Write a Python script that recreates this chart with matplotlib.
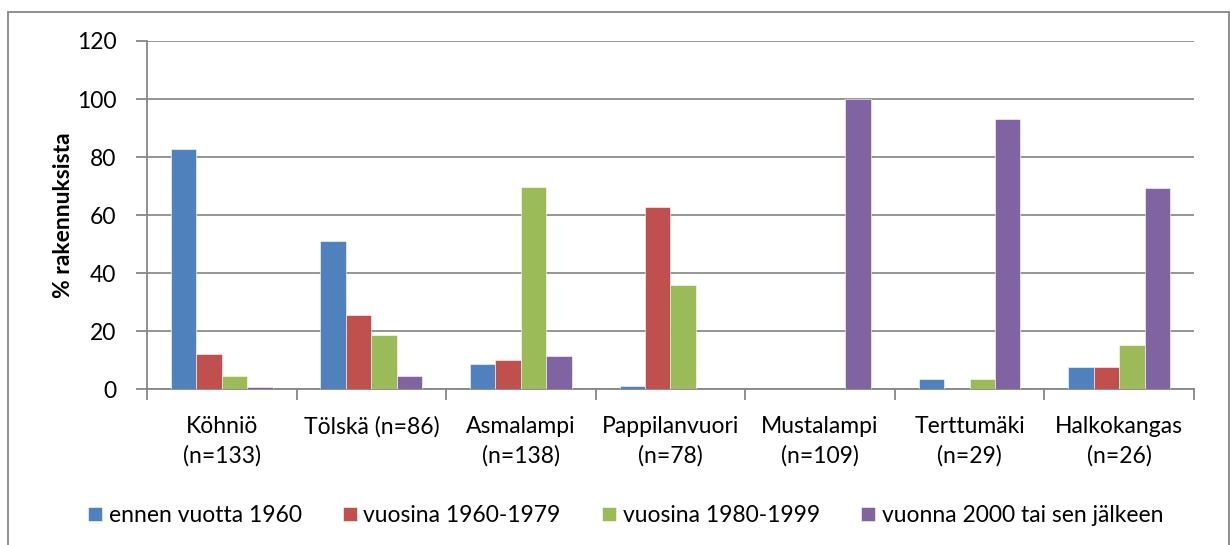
import numpy as np
import matplotlib
matplotlib.use("Agg")
import matplotlib.pyplot as plt
from matplotlib.patches import Rectangle

plt.rcParams['font.family'] = ['Lato', 'DejaVu Sans']

categories = ["Köhniö\n(n=133)", "Tölskä (n=86)", "Asmalampi\n(n=138)", "Pappilanvuori\n(n=78)",
              "Mustalampi\n(n=109)", "Terttumäki\n(n=29)", "Halkokangas\n(n=26)"]
series_names = ["ennen vuotta 1960", "vuosina 1960-1979", "vuosina 1980-1999", "vuonna 2000 tai sen jälkeen"]
before_1960 = [82.7, 51.2, 8.7, 1.3, 0.0, 3.4, 7.7]
y1960_1979 = [12.0, 25.6, 10.1, 62.8, 0.0, 0.0, 7.7]
y1980_1999 = [4.5, 18.6, 69.6, 35.9, 0.0, 3.4, 15.4]
after_2000 = [0.8, 4.7, 11.6, 0.0, 100.0, 93.1, 69.2]
colors = ["#4F81BD", "#C0504D", "#9BBB59", "#8064A2"]

fig = plt.figure(figsize=(12.3, 5.45), dpi=100)
ax = fig.add_axes([0.1195, 0.2857, 0.8512, 0.6391])

x = np.arange(len(categories))
w = 0.17
for i, vals in enumerate([before_1960, y1960_1979, y1980_1999, after_2000]):
    ax.bar(x + (i - 1.5) * w, vals, w, color=colors[i], label=series_names[i],
           edgecolor='white', linewidth=0.4, zorder=3)

ax.set_xlim(-0.5, len(categories) - 0.5)
ax.set_ylim(0, 120)
ax.set_yticks(range(0, 121, 20))
ax.yaxis.grid(True, color='#8C8C8C', linewidth=1.3, zorder=0)
ax.set_axisbelow(True)

for s in ['top', 'right']:
    ax.spines[s].set_visible(False)
for s in ['left', 'bottom']:
    ax.spines[s].set_color('#868686')
    ax.spines[s].set_linewidth(1.3)

fs = 16.5
ax.set_xticks(np.arange(len(categories) + 1) - 0.5, minor=False)
ax.set_xticklabels([])
ax.set_xticks(x, minor=True)
ax.set_xticklabels(categories, minor=True, fontsize=fs, linespacing=1.45, va='top')
ax.tick_params(axis='x', which='major', length=8, width=1.3, color='#868686', direction='out')
ax.tick_params(axis='x', which='minor', length=0, pad=19)
ax.tick_params(axis='y', length=8, width=1.3, color='#868686', labelsize=fs, pad=14)

ax.set_ylabel('% rakennuksista', fontsize=fs, fontweight='bold', labelpad=2)

ax.legend(loc='center', bbox_to_anchor=(0.457, -0.362), ncol=4, frameon=False,
          fontsize=fs, handlelength=0.6, handleheight=0.6, handletextpad=0.3,
          columnspacing=1.8)

fig.patches.append(Rectangle((8 / 1230, -0.05), (1229 - 8) / 1230, 1 - 12 / 545 + 0.05,
                             transform=fig.transFigure, fill=False,
                             edgecolor='#868686', linewidth=1.3))

fig.savefig('out.png', dpi=100)
